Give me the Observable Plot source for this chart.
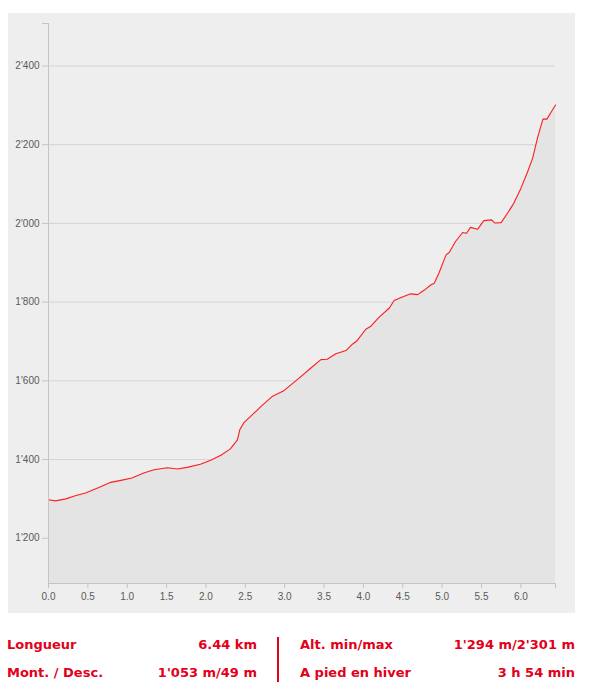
<!DOCTYPE html>
<html>
<head>
<meta charset="utf-8">
<script src="https://cdn.jsdelivr.net/npm/d3@7"></script>
<script src="https://cdn.jsdelivr.net/npm/@observablehq/plot@0.6"></script>
<style>
  body { margin: 0; background: #fff; }
  #panel { position: absolute; left: 8px; top: 13px; width: 567px; height: 600px; background: #eeeeee; }
  #infos { position: absolute; left: 7px; top: 634px; width: 568px; font-family: "DejaVu Sans", Verdana, sans-serif;
           font-weight: bold; font-size: 13px; color: #e2001a; }
  .col { position: absolute; top: 0; }
  .col div { display: flex; justify-content: space-between; height: 28px; line-height: 22px; }
  #sep { position: absolute; left: 270px; top: 3px; width: 2px; height: 45px; background: #e2001a; }
</style>
</head>
<body>
<div id="panel"></div>
<div id="infos"></div>
<script>
// profil altimetrique
let km  = [0.00, 0.09, 0.22, 0.34, 0.47, 0.64, 0.79, 0.92, 1.06, 1.21, 1.34, 1.51, 1.64, 1.76, 1.93,
           2.06, 2.19, 2.31, 2.40, 2.43, 2.48, 2.59, 2.70, 2.84, 2.99, 3.16, 3.33, 3.46, 3.54, 3.65,
           3.78, 3.86, 3.92, 4.03, 4.09, 4.20, 4.33, 4.39, 4.48, 4.60, 4.69, 4.77, 4.86, 4.90, 4.96,
           5.05, 5.09, 5.17, 5.26, 5.31, 5.36, 5.45, 5.53, 5.63, 5.67, 5.75, 5.83, 5.91, 6.00, 6.08,
           6.15, 6.21, 6.28, 6.33, 6.38, 6.44];
let alt = [1298, 1295, 1300, 1308, 1315, 1329, 1342, 1347, 1353, 1366, 1374, 1379, 1376, 1380, 1388,
           1398, 1411, 1427, 1450, 1476, 1493, 1514, 1535, 1560, 1575, 1603, 1632, 1654, 1655, 1669,
           1677, 1693, 1702, 1731, 1738, 1762, 1785, 1804, 1812, 1821, 1819, 1830, 1844, 1848, 1874,
           1920, 1926, 1954, 1977, 1975, 1990, 1985, 2007, 2009, 2001, 2002, 2026, 2051, 2089, 2128,
           2166, 2216, 2265, 2265, 2281, 2301];

let xTicks = [0, 0.5, 1, 1.5, 2, 2.5, 3, 3.5, 4, 4.5, 5, 5.5, 6];
let yTicks = [1200, 1400, 1600, 1800, 2000, 2200, 2400];
let xDomain = [0, 6.44];
let yDomain = [1085, 2508];

let infoLabels = ["Longueur", "Mont. / Desc.", "Alt. min/max", "A pied en hiver"];
let infoValues = ["6.44 km", "1'053 m/49 m", "1'294 m/2'301 m", "3 h 54 min"];

let profil = km.map((d, i) => ({km: d, alt: alt[i]}));

// separateur de milliers suisse
let fmtAlt = d => d3.format(",")(d).replace(/,/g, "'");

let axisColor = "#c4c4c4";
let txtColor = "#5a5a5a";

let chart = Plot.plot({
  width: 567,
  height: 600,
  marginLeft: 40,
  marginRight: 20,
  marginTop: 10,
  marginBottom: 30,
  style: { background: "#eeeeee", fontFamily: "'Liberation Sans', Arial, sans-serif", fontSize: "10px", color: txtColor },
  x: { domain: xDomain },
  y: { domain: yDomain },
  marks: [
    Plot.gridY(yTicks, { stroke: "#d4d4d4", strokeOpacity: 1 }),
    Plot.areaY(profil, { x: "km", y1: yDomain[0], y2: "alt", fill: "#e4e4e4", curve: "linear" }),
    Plot.lineY(profil, { x: "km", y: "alt", stroke: "#ff1e1e", strokeWidth: 1.1, curve: "linear" }),
    Plot.ruleX([xDomain[0]], { stroke: axisColor }),
    Plot.ruleY([yDomain[0]], { stroke: axisColor }),
    Plot.axisY(yTicks.concat([yDomain[1]]), {
      tickSize: 6, tickPadding: 3, stroke: axisColor, fill: txtColor, label: null,
      tickFormat: d => d === yDomain[1] ? "" : fmtAlt(d)
    }),
    Plot.axisX(xTicks.concat([xDomain[1]]), {
      tickSize: 5, tickPadding: 4, stroke: axisColor, fill: txtColor, label: null,
      tickFormat: d => d === xDomain[1] ? "" : d.toFixed(1)
    })
  ]
});

d3.select("#panel").append(() => chart);

// bloc d'infos sous le graphique
let infos = d3.select("#infos");
[[0, 250], [293, 275]].forEach(([left, w], c) => {
  let col = infos.append("div").attr("class", "col").style("left", left + "px").style("width", w + "px");
  [0, 1].forEach(r => {
    let row = col.append("div");
    row.append("span").text(infoLabels[c * 2 + r]);
    row.append("span").text(infoValues[c * 2 + r]);
  });
});
infos.append("div").attr("id", "sep");
</script>
</body>
</html>
